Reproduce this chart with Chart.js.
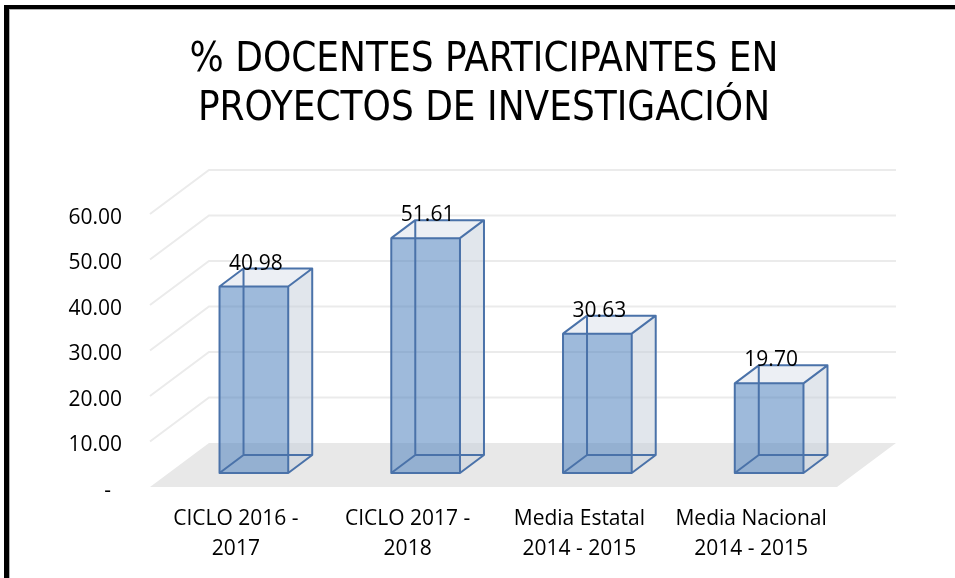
<!DOCTYPE html>
<html>
<head>
<meta charset="utf-8">
<script src="https://cdn.jsdelivr.net/npm/chart.js@4/dist/chart.umd.min.js"></script>
<style>
  body { margin: 0; background: #fff; }
  #wrap { position: relative; width: 955px; height: 578px; }
  #frame {
    position: absolute; left: 4px; top: 5px; right: 0; bottom: 0;
    border-left: 5px solid #000; border-top: 4px solid #000;
    box-shadow: inset 1px 1px 0 #b0b0b0; pointer-events: none;
  }
</style>
</head>
<body>
<div id="wrap">
  <canvas id="chart" width="955" height="578"></canvas>
  <div id="frame"></div>
</div>
<script>
// data
const titleLines = ['% DOCENTES PARTICIPANTES EN', 'PROYECTOS DE INVESTIGACIÓN'];
const categories = [
    ['CICLO 2016 -', '2017'],
    ['CICLO 2017 -', '2018'],
    ['Media Estatal', '2014 - 2015'],
    ['Media Nacional', '2014 - 2015']
];
const values = [40.98, 51.61, 30.63, 19.70];
const yTicks = [0, 10, 20, 30, 40, 50, 60];

const labelFont = "'Open Sans', 'Noto Sans', sans-serif";
const titleFont = "'Liberation Sans Narrow', 'DejaVu Sans Condensed', sans-serif";

// 3d look: depth of the walls and of the boxes
const wallDepth = { x: 59, y: -44 };
const boxShift = { x: 18, y: -14 };
const boxDepth = { x: 24, y: -18 };

const fakeThreeD = {
    id: 'fakeThreeD',
    beforeDatasetsDraw(chart) {
        const ctx = chart.ctx;
        const area = chart.chartArea;
        const yScale = chart.scales.y;
        const y0 = yScale.getPixelForValue(0);

        ctx.save();
        // floor
        ctx.fillStyle = '#e8e8e8';
        ctx.beginPath();
        ctx.moveTo(area.left, y0);
        ctx.lineTo(area.right, y0);
        ctx.lineTo(area.right + wallDepth.x, y0 + wallDepth.y);
        ctx.lineTo(area.left + wallDepth.x, y0 + wallDepth.y);
        ctx.closePath();
        ctx.fill();

        // grid lines on side wall and back wall
        ctx.strokeStyle = '#ebebeb';
        ctx.lineWidth = 2;
        yTicks.forEach(v => {
            if (v === 0) return;
            let yy = yScale.getPixelForValue(v);
            ctx.beginPath();
            ctx.moveTo(area.left, yy);
            ctx.lineTo(area.left + wallDepth.x, yy + wallDepth.y);
            ctx.lineTo(area.right + wallDepth.x, yy + wallDepth.y);
            ctx.stroke();
        });
        ctx.restore();
    },
    afterDatasetsDraw(chart) {
        const ctx = chart.ctx;
        const meta = chart.getDatasetMeta(0);
        ctx.save();
        meta.data.forEach((bar, i) => {
            const p = bar.getProps(['x', 'y', 'base', 'width'], true);
            const l = p.x - p.width / 2 + boxShift.x;
            const r = p.x + p.width / 2 + boxShift.x;
            const t = p.y + boxShift.y;
            const b = p.base + boxShift.y;
            const dx = boxDepth.x, dy = boxDepth.y;

            // right side
            ctx.fillStyle = 'rgba(196,205,218,0.5)';
            ctx.beginPath();
            ctx.moveTo(r, t); ctx.lineTo(r + dx, t + dy); ctx.lineTo(r + dx, b + dy); ctx.lineTo(r, b);
            ctx.closePath(); ctx.fill();
            // top
            ctx.fillStyle = 'rgba(218,224,234,0.5)';
            ctx.beginPath();
            ctx.moveTo(l, t); ctx.lineTo(r, t); ctx.lineTo(r + dx, t + dy); ctx.lineTo(l + dx, t + dy);
            ctx.closePath(); ctx.fill();
            // front
            ctx.fillStyle = 'rgba(79,129,189,0.55)';
            ctx.fillRect(l, t, r - l, b - t);

            // all twelve edges, the box is see-through
            ctx.strokeStyle = '#4a72a9';
            ctx.lineWidth = 2;
            ctx.lineJoin = 'round';
            ctx.beginPath();
            ctx.rect(l, t, r - l, b - t);
            ctx.rect(l + dx, t + dy, r - l, b - t);
            ctx.moveTo(l, t); ctx.lineTo(l + dx, t + dy);
            ctx.moveTo(r, t); ctx.lineTo(r + dx, t + dy);
            ctx.moveTo(l, b); ctx.lineTo(l + dx, b + dy);
            ctx.moveTo(r, b); ctx.lineTo(r + dx, b + dy);
            ctx.stroke();

            // value label
            ctx.fillStyle = '#000';
            ctx.font = `21px ${labelFont}`;
            ctx.textAlign = 'center';
            ctx.textBaseline = 'alphabetic';
            ctx.fillText(values[i].toFixed(2), (l + r) / 2 + 2, t + dy + 1);
        });
        ctx.restore();
    }
};

const ctx = document.getElementById('chart').getContext('2d');
const chart = new Chart(ctx, {
    type: 'bar',
    data: {
        labels: categories,
        datasets: [{
            data: values,
            backgroundColor: 'rgba(0,0,0,0)',
            borderWidth: 0,
            barPercentage: 0.4,
            categoryPercentage: 1
        }]
    },
    options: {
        responsive: false,
        animation: false,
        devicePixelRatio: 1,
        layout: {
            padding: { left: 13, right: 0, top: 0, bottom: 14 }
        },
        plugins: {
            legend: { display: false },
            tooltip: { enabled: false },
            title: {
                display: true,
                text: titleLines,
                color: '#000',
                font: { family: titleFont, size: 40, weight: 'normal', lineHeight: 49 / 40 },
                padding: { top: 36, bottom: 80 }
            }
        },
        scales: {
            x: {
                grid: { display: false, drawTicks: false },
                border: { display: false },
                afterFit: scale => { scale.height = 77; },
                ticks: {
                    color: '#000',
                    font: { family: labelFont, size: 21, lineHeight: 30 / 21 },
                    padding: 17,
                    maxRotation: 0,
                    autoSkip: false
                }
            },
            y: {
                min: 0,
                max: 60,
                grid: { display: false, drawTicks: false },
                border: { display: false },
                afterFit: scale => { scale.width = 137; },
                ticks: {
                    stepSize: 10,
                    color: '#000',
                    padding: 28,
                    labelOffset: 4,
                    font: { family: labelFont, size: 21 },
                    callback: v => v === 0 ? '-  ' : v.toFixed(2)
                }
            },
            // empty room on the right where the back wall sticks out
            yRight: {
                position: 'right',
                min: 0,
                max: 60,
                grid: { display: false, drawTicks: false },
                border: { display: false },
                ticks: { display: false },
                afterFit: scale => { scale.width = 118; }
            }
        }
    },
    plugins: [fakeThreeD]
});
</script>
</body>
</html>
